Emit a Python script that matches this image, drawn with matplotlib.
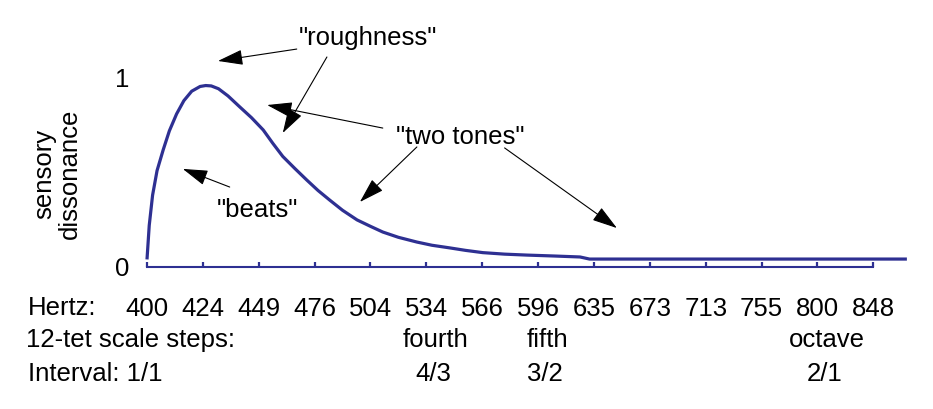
import numpy as np
import matplotlib.pyplot as plt

plt.rcParams['font.family'] = ['Liberation Sans', 'DejaVu Sans']

# semitone steps above 400 Hz (12-tet) and the rounded frequencies printed under them
hertz = [400, 424, 449, 476, 504, 534, 566, 596, 635, 673, 713, 755, 800, 848]
steps = np.arange(len(hertz))

# special scale steps
step_idx = [5, 7, 12]
step_names = ['fourth', 'fifth', 'octave']
ratios = ['4/3', '3/2', '2/1']

# dissonance curve (x in semitones above 400 Hz)
curve_x = [0, 0.04, 0.1, 0.18, 0.29, 0.4, 0.53, 0.66, 0.8, 0.95, 1.05, 1.15, 1.28, 1.45,
           1.66, 1.87, 2.08, 2.25, 2.43, 2.65, 2.86, 3.06, 3.27, 3.5, 3.76, 4.0, 4.22,
           4.5, 4.83, 5.1, 5.42, 5.7, 6.01, 6.4, 6.8, 7.3, 7.75, 7.92, 13.6]
curve_y = [0.04, 0.22, 0.38, 0.51, 0.62, 0.72, 0.81, 0.88, 0.93, 0.955, 0.96, 0.958,
           0.943, 0.905, 0.847, 0.79, 0.725, 0.655, 0.585, 0.52, 0.46, 0.405, 0.354,
           0.30, 0.249, 0.215, 0.185, 0.157, 0.132, 0.115, 0.101, 0.088, 0.076, 0.068,
           0.063, 0.058, 0.053, 0.042, 0.042]

navy = '#2e3092'
fs = 18.5

fig = plt.figure(figsize=(9.33, 4.09), dpi=100)
ax = fig.add_axes([147 / 933, 0.3472, 761 / 933, 0.647])

ax.plot(curve_x, curve_y, color=navy, lw=2.3, clip_on=False, solid_capstyle='butt',
        solid_joinstyle='round')

ax.set_xlim(0, 13.62)
ax.set_ylim(0, 1.4)
for s in ['top', 'right', 'left']:
    ax.spines[s].set_visible(False)
ax.spines['bottom'].set_bounds(0, 13)
ax.spines['bottom'].set_color(navy)
ax.spines['bottom'].set_linewidth(1.5)

ax.set_xticks(steps)
ax.set_xticklabels([str(h) for h in hertz], fontsize=fs)
ax.tick_params(axis='x', direction='in', length=3.6, width=1.6, color=navy, pad=21.5)
ax.set_yticks([0, 1])
ax.set_yticklabels(['0', '1'], fontsize=fs)
ax.tick_params(axis='y', length=0, pad=13)

# row titles under the axis
fig.text(0.030, 1 - 315 / 409, 'Hertz:', fontsize=fs, va='baseline')
fig.text(0.028, 1 - 347 / 409, '12-tet scale steps:', fontsize=fs, va='baseline')
fig.text(0.030, 1 - 381 / 409, 'Interval: 1/1', fontsize=fs, va='baseline')

for i, name, r in zip(step_idx, step_names, ratios):
    ax.text(i + 0.17, -(347 - 267) / 189, name, fontsize=fs, ha='center', va='baseline')
    ax.text(i + 0.12, -(381 - 267) / 189, r, fontsize=fs, ha='center', va='baseline')

fig.text(57 / 933, 1 - 174 / 409, 'sensory\ndissonance', fontsize=fs, rotation=90,
         ha='center', va='center', multialignment='center', linespacing=1.05)

# annotations
arrow = dict(arrowstyle='-|>,head_length=1.3,head_width=0.4', mutation_scale=12,
             color='black', lw=0.8, shrinkA=0, shrinkB=0)

ax.text(3.95, 1.212, '"roughness"', fontsize=fs, ha='center', va='center')
ax.annotate('', xy=(1.27, 1.09), xytext=(2.68, 1.153), arrowprops=arrow, annotation_clip=False)
ax.annotate('', xy=(2.43, 0.709), xytext=(3.22, 1.111), arrowprops=arrow, annotation_clip=False)

ax.text(5.60, 0.688, '"two tones"', fontsize=fs, ha='center', va='center')
ax.annotate('', xy=(2.15, 0.857), xytext=(4.22, 0.735), arrowprops=arrow)
ax.annotate('', xy=(3.81, 0.344), xytext=(4.83, 0.635), arrowprops=arrow)
ax.annotate('', xy=(8.41, 0.206), xytext=(6.40, 0.630), arrowprops=arrow)

ax.text(1.97, 0.30, '"beats"', fontsize=fs, ha='center', va='center')
ax.annotate('', xy=(0.64, 0.519), xytext=(1.48, 0.423), arrowprops=arrow)

fig.savefig('out.png', dpi=100)
